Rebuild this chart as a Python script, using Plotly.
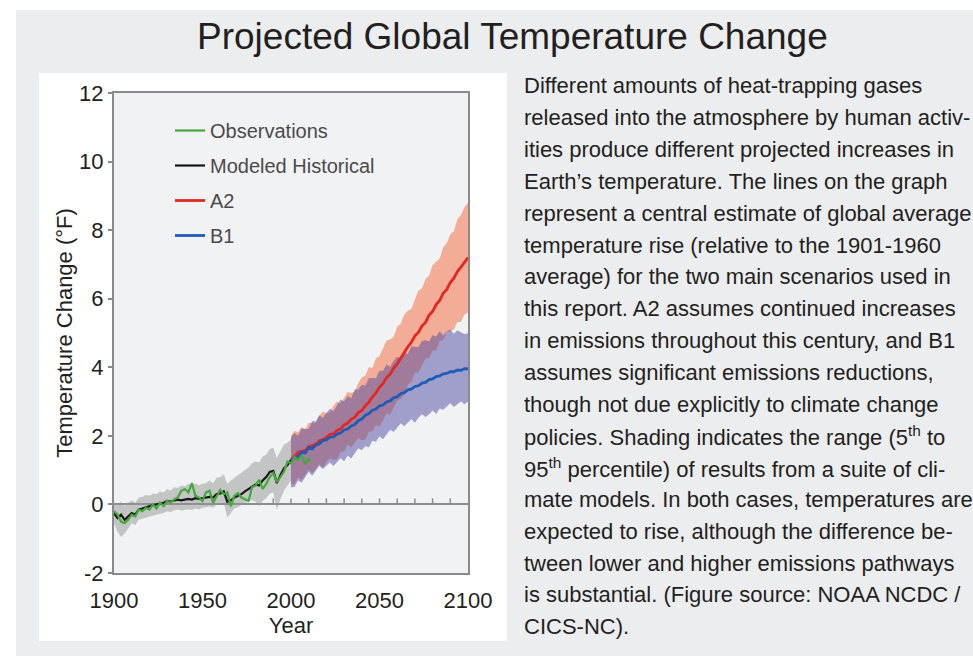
import plotly.graph_objects as go

# ---------------- data ----------------
hist_years = list(range(1900, 2001, 2))
hist_model = [-0.25, -0.40, -0.30, -0.45, -0.35, -0.25, -0.30, -0.15, -0.12, -0.08,
              -0.05, -0.02, 0.00, 0.02, 0.05, 0.10, 0.08, 0.12, 0.14, 0.12,
              0.15, 0.16, 0.14, 0.18, 0.16, 0.18, 0.20, 0.22, 0.20, 0.30,
              0.32, 0.38, 0.08, 0.12, 0.20, 0.24, 0.30, 0.38, 0.45, 0.52,
              0.58, 0.55, 0.70, 0.80, 0.95, 0.98, 0.62, 0.85, 1.05, 1.15, 1.30]
hist_upper = [0.05, 0.00, 0.08, -0.05, 0.05, 0.12, 0.05, 0.20, 0.22, 0.28,
              0.25, 0.32, 0.30, 0.38, 0.35, 0.45, 0.40, 0.50, 0.48, 0.55,
              0.52, 0.60, 0.55, 0.62, 0.55, 0.60, 0.62, 0.70, 0.62, 0.78,
              0.80, 0.88, 0.60, 0.70, 0.78, 0.85, 0.92, 1.00, 1.08, 1.20,
              1.25, 1.22, 1.40, 1.45, 1.62, 1.65, 1.35, 1.55, 1.75, 1.80, 1.90]
hist_lower = [-0.55, -0.80, -0.95, -0.85, -0.70, -0.55, -0.60, -0.45, -0.42, -0.38,
              -0.35, -0.32, -0.30, -0.28, -0.25, -0.20, -0.22, -0.18, -0.15, -0.18,
              -0.15, -0.14, -0.16, -0.12, -0.15, -0.10, -0.08, -0.06, -0.10, 0.00,
              0.02, 0.05, -0.38, -0.25, -0.12, -0.08, -0.02, 0.05, 0.10, 0.12,
              0.08, -0.05, 0.10, 0.18, 0.32, 0.35, -0.15, 0.15, 0.40, 0.55, 0.70]

obs_years = list(range(1900, 2011, 2)) + [2011]
obs_values = [-0.20, -0.30, -0.50, -0.55, -0.45, -0.30, -0.35, -0.15, -0.20, -0.10,
              -0.15, 0.00, -0.12, 0.05, -0.05, 0.10, 0.05, 0.15, 0.20, 0.40,
              0.45, 0.35, 0.62, 0.25, 0.20, 0.10, 0.35, 0.40, 0.05, 0.25,
              0.42, 0.30, 0.35, -0.05, 0.25, 0.33, 0.20, 0.15, 0.10, 0.50,
              0.55, 0.72, 0.45, 0.60, 0.80, 0.92, 0.65, 0.80, 0.95, 1.25,
              1.20, 1.38, 1.30, 1.42, 1.18, 1.35, 1.25]

proj_years = list(range(2000, 2101, 2))
a2_mid = [1.30, 1.40, 1.52, 1.55, 1.57, 1.68, 1.72, 1.75, 1.86, 1.89,
          1.95, 2.05, 2.06, 2.16, 2.20, 2.32, 2.37, 2.48, 2.54, 2.68,
          2.74, 2.88, 2.98, 3.14, 3.25, 3.42, 3.53, 3.70, 3.80, 3.98,
          4.10, 4.27, 4.40, 4.60, 4.73, 4.92, 5.02, 5.20, 5.31, 5.52,
          5.63, 5.83, 5.95, 6.16, 6.27, 6.47, 6.60, 6.79, 6.92, 7.08, 7.20]
a2_upper = [2.00, 2.14, 2.11, 2.26, 2.18, 2.38, 2.38, 2.36, 2.58, 2.71,
            2.66, 2.68, 2.88, 3.00, 2.94, 3.10, 3.28, 3.25, 3.29, 3.54,
            3.70, 3.76, 4.00, 3.99, 4.26, 4.33, 4.58, 4.78, 4.81, 4.89,
            5.18, 5.27, 5.54, 5.65, 5.71, 5.99, 6.24, 6.30, 6.58, 6.67,
            6.98, 7.08, 7.17, 7.50, 7.62, 7.88, 7.97, 8.32, 8.44, 8.67, 8.80]
a2_lower = [0.60, 0.60, 0.79, 0.72, 0.87, 1.01, 0.92, 1.03, 1.18, 1.07,
            1.24, 1.35, 1.30, 1.31, 1.54, 1.55, 1.75, 1.66, 1.80, 1.93,
            1.87, 1.89, 2.12, 2.13, 2.32, 2.26, 2.45, 2.65, 2.61, 2.82,
            3.03, 3.08, 3.20, 3.50, 3.58, 3.85, 3.84, 4.05, 4.26, 4.27,
            4.49, 4.50, 4.77, 4.79, 5.04, 5.05, 5.10, 5.32, 5.32, 5.54, 5.60]
b1_mid = [1.30, 1.35, 1.40, 1.52, 1.50, 1.66, 1.62, 1.73, 1.77, 1.86,
          1.88, 1.96, 1.97, 2.05, 2.08, 2.17, 2.20, 2.29, 2.33, 2.44,
          2.49, 2.60, 2.65, 2.75, 2.78, 2.87, 2.90, 2.99, 3.02, 3.11,
          3.14, 3.23, 3.26, 3.34, 3.36, 3.44, 3.46, 3.54, 3.56, 3.64,
          3.66, 3.73, 3.75, 3.81, 3.82, 3.87, 3.87, 3.92, 3.91, 3.96, 3.95]
b1_upper = [1.95, 2.08, 2.00, 2.21, 2.21, 2.20, 2.43, 2.42, 2.61, 2.52,
            2.67, 2.79, 2.72, 2.90, 3.06, 3.00, 3.16, 3.10, 3.35, 3.35,
            3.49, 3.46, 3.68, 3.69, 3.68, 3.90, 3.90, 4.09, 4.01, 4.19,
            4.31, 4.28, 4.44, 4.38, 4.61, 4.59, 4.59, 4.77, 4.79, 4.75,
            4.94, 4.90, 5.05, 4.93, 5.05, 5.10, 4.98, 5.08, 5.03, 4.96, 5.00]
b1_lower = [0.50, 0.51, 0.70, 0.64, 0.79, 0.95, 0.84, 1.00, 1.13, 1.03,
            1.14, 1.22, 1.12, 1.22, 1.35, 1.26, 1.43, 1.34, 1.49, 1.64,
            1.58, 1.70, 1.67, 1.86, 1.83, 1.99, 1.90, 2.04, 2.18, 2.11,
            2.23, 2.37, 2.28, 2.38, 2.49, 2.38, 2.53, 2.63, 2.55, 2.63,
            2.74, 2.64, 2.80, 2.76, 2.85, 2.95, 2.84, 2.91, 3.00, 2.92, 3.00]

x_ticks = [1900, 1950, 2000, 2050, 2100]
y_ticks = [-2, 0, 2, 4, 6, 8, 10, 12]
y_tick_text = ["-2", "0", "2", "4", "6", "8", "10", "12"]
zero_ticks = [1990, 2000, 2010, 2020, 2030, 2040, 2050, 2060, 2070, 2080, 2090]

title_text = "Projected Global Temperature Change"
para_lines = [
    "Different amounts of heat-trapping gases",
    "released into the atmosphere by human activ-",
    "ities produce different projected increases in",
    "Earth\u2019s temperature. The lines on the graph",
    "represent a central estimate of global average",
    "temperature rise (relative to the 1901-1960",
    "average) for the two main scenarios used in",
    "this report. A2 assumes continued increases",
    "in emissions throughout this century, and B1",
    "assumes significant emissions reductions,",
    "though not due explicitly to climate change",
    "policies. Shading indicates the range (5<sup>th</sup> to",
    "95<sup>th</sup> percentile) of results from a suite of cli-",
    "mate models. In both cases, temperatures are",
    "expected to rise, although the difference be-",
    "tween lower and higher emissions pathways",
    "is substantial. (Figure source: NOAA NCDC /",
    "CICS-NC).",
]

# ---------------- layout geometry (pixels) ----------------
W, H = 973, 656
PL, PR, PT, PB = 114, 468, 93, 573


def px(x):
    return (x - PL) / (PR - PL)


def py(y):
    return (PB - y) / (PB - PT)


CHART_FONT = "Liberation Sans, Arial, Helvetica, sans-serif"

fig = go.Figure()

# bands
fig.add_trace(go.Scatter(x=hist_years, y=hist_lower, mode="lines", line=dict(width=0),
                         showlegend=False, hoverinfo="skip"))
fig.add_trace(go.Scatter(x=hist_years, y=hist_upper, mode="lines", line=dict(width=0),
                         fill="tonexty", fillcolor="rgba(150,150,150,0.5)",
                         showlegend=False, hoverinfo="skip"))
fig.add_trace(go.Scatter(x=proj_years, y=a2_lower, mode="lines", line=dict(width=0),
                         showlegend=False, hoverinfo="skip"))
fig.add_trace(go.Scatter(x=proj_years, y=a2_upper, mode="lines", line=dict(width=0),
                         fill="tonexty", fillcolor="rgba(245,122,82,0.58)",
                         showlegend=False, hoverinfo="skip"))
fig.add_trace(go.Scatter(x=proj_years, y=b1_lower, mode="lines", line=dict(width=0),
                         showlegend=False, hoverinfo="skip"))
fig.add_trace(go.Scatter(x=proj_years, y=b1_upper, mode="lines", line=dict(width=0),
                         fill="tonexty", fillcolor="rgba(72,70,160,0.48)",
                         showlegend=False, hoverinfo="skip"))

# lines
fig.add_trace(go.Scatter(x=hist_years, y=hist_model, mode="lines", name="Modeled Historical",
                         line=dict(color="#151515", width=2.2), legendrank=2,
                         legendgroup="m"))
fig.add_trace(go.Scatter(x=proj_years, y=a2_mid, mode="lines", name="A2",
                         line=dict(color="#e5261f", width=2.8), legendrank=3,
                         legendgroup="a"))
fig.add_trace(go.Scatter(x=proj_years, y=b1_mid, mode="lines", name="B1",
                         line=dict(color="#1f5cb8", width=2.8), legendrank=4,
                         legendgroup="b"))
fig.add_trace(go.Scatter(x=obs_years, y=obs_values, mode="lines", name="Observations",
                         line=dict(color="#45a83c", width=2.2), legendrank=1,
                         legendgroup="o"))

shapes = [
    dict(type="rect", xref="paper", yref="paper", x0=px(16), x1=px(W + 5),
         y0=py(H + 5), y1=py(10), fillcolor="#ecedef", line=dict(width=0), layer="below"),
    dict(type="rect", xref="paper", yref="paper", x0=px(39), x1=px(507),
         y0=py(641), y1=py(73), fillcolor="#ffffff", line=dict(width=0), layer="below"),
    dict(type="rect", xref="paper", yref="paper", x0=0, x1=1, y0=0, y1=1,
         fillcolor="#f1f2f3", line=dict(width=0), layer="below"),
]
for yr in zero_ticks:
    shapes.append(dict(type="line", xref="x", yref="y", x0=yr, x1=yr,
                       ysizemode="pixel", yanchor=0, y0=0, y1=6,
                       line=dict(color="#8c8c8c", width=1.5), layer="below"))

annotations = [
    dict(xref="paper", yref="paper", x=px(512), y=py(37), text=title_text,
         showarrow=False, xanchor="center", yanchor="middle",
         font=dict(family=CHART_FONT, size=37, color="#231f20")),
]
for i, line in enumerate(para_lines):
    annotations.append(dict(xref="paper", yref="paper", x=px(522), y=py(86 + i * 31.8),
                            text=line, showarrow=False, xanchor="left", yanchor="middle",
                            font=dict(family=CHART_FONT, size=22, color="#231f20")))

fig.update_layout(
    width=W, height=H,
    margin=dict(l=PL, r=W - PR, t=PT, b=H - PB, pad=0),
    paper_bgcolor="#ffffff",
    plot_bgcolor="rgba(0,0,0,0)",
    font=dict(family=CHART_FONT, size=22, color="#231f20"),
    showlegend=True,
    legend=dict(x=px(170), y=py(111), xanchor="left", yanchor="top",
                bgcolor="rgba(0,0,0,0)", borderwidth=0,
                font=dict(family=CHART_FONT, size=20, color="#4a4a4a"),
                tracegroupgap=6, traceorder="grouped"),
    shapes=shapes,
    annotations=annotations,
    xaxis=dict(range=[1900, 2100], tickvals=x_ticks, ticks="outside", ticklen=7,
               tickcolor="rgba(0,0,0,0)", showgrid=False, zeroline=False,
               showline=True, linecolor="#8a8a8a", linewidth=2, mirror=True,
               title=dict(text="Year", standoff=5, font=dict(size=22)),
               tickfont=dict(size=22, color="#231f20")),
    yaxis=dict(range=[-2, 12], tickvals=y_ticks, ticktext=y_tick_text,
               ticks="outside", ticklen=4,
               tickcolor="#8a8a8a", tickwidth=1.5, showgrid=False,
               zeroline=True, zerolinecolor="#8c8c8c", zerolinewidth=1.5,
               showline=True, linecolor="#8a8a8a", linewidth=2, mirror=True,
               title=dict(text="Temperature Change (°F)", standoff=0, font=dict(size=22)),
               tickfont=dict(size=22, color="#231f20")),
)

fig.write_html("out.html", config={"displayModeBar": False},
               post_script="document.body.style.margin='0px';")
